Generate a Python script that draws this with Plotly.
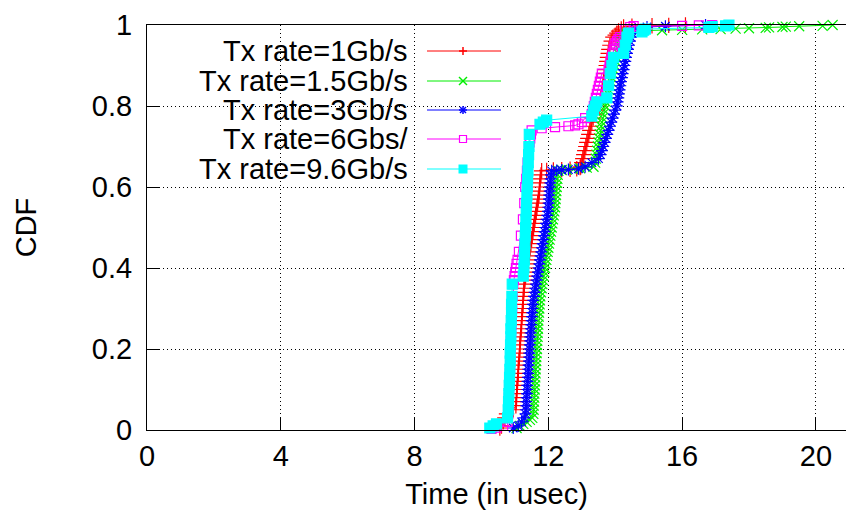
import plotly.graph_objects as go

# ---------------- data ----------------
series_names = ["Tx rate=1Gb/s", "Tx rate=1.5Gb/s", "Tx rate=3Gb/s",
                "Tx rate=6Gbs/", "Tx rate=9.6Gb/s"]

red_t = [
    10.55, 10.60, 10.65, 10.70, 10.75, 10.95, 11.03, 11.04, 11.05, 11.05,
    11.06, 11.07, 11.08, 11.09, 11.10, 11.10, 11.11, 11.12, 11.13, 11.14,
    11.15, 11.15, 11.16, 11.17, 11.18, 11.19, 11.20, 11.20, 11.21, 11.22,
    11.23, 11.24, 11.25, 11.25, 11.26, 11.27, 11.28, 11.30, 11.32, 11.34,
    11.36, 11.38, 11.40, 11.42, 11.44, 11.46, 11.48, 11.50, 11.52, 11.54,
    11.56, 11.58, 11.60, 11.62, 11.64, 11.66, 11.68, 11.70, 11.72, 11.73,
    11.74, 11.75, 11.76, 11.78, 11.80, 11.95, 12.15, 12.40, 12.65, 12.85,
    12.95, 12.97, 13.00, 13.03, 13.06, 13.09, 13.12, 13.15, 13.18, 13.21,
    13.24, 13.27, 13.30, 13.34, 13.38, 13.44, 13.52, 13.55, 13.57, 13.59,
    13.61, 13.63, 13.65, 13.67, 13.69, 13.71, 13.73, 13.75, 13.77, 13.79,
    13.81, 13.84, 13.88, 13.93, 14.00, 14.05, 14.10, 14.18, 14.25, 14.50,
    15.10, 15.60, 16.10]
red_cdf = [
    0.005, 0.01, 0.02, 0.03, 0.04, 0.05, 0.06, 0.07, 0.08, 0.09,
    0.10, 0.11, 0.12, 0.13, 0.14, 0.15, 0.16, 0.17, 0.18, 0.19,
    0.20, 0.21, 0.22, 0.23, 0.24, 0.25, 0.26, 0.27, 0.28, 0.29,
    0.30, 0.31, 0.32, 0.33, 0.34, 0.35, 0.36, 0.37, 0.38, 0.39,
    0.40, 0.41, 0.42, 0.43, 0.44, 0.45, 0.46, 0.47, 0.48, 0.49,
    0.50, 0.51, 0.52, 0.53, 0.54, 0.55, 0.56, 0.57, 0.58, 0.59,
    0.60, 0.61, 0.62, 0.63, 0.64, 0.641, 0.642, 0.643, 0.644, 0.645,
    0.648, 0.65, 0.66, 0.67, 0.68, 0.69, 0.70, 0.71, 0.72, 0.73,
    0.74, 0.75, 0.76, 0.77, 0.78, 0.79, 0.80, 0.81, 0.82, 0.83,
    0.84, 0.85, 0.86, 0.87, 0.88, 0.89, 0.90, 0.91, 0.92, 0.93,
    0.94, 0.95, 0.96, 0.97, 0.975, 0.98, 0.985, 0.99, 0.995, 0.997,
    0.998, 0.999, 1.0]

green_t = [
    11.05, 11.15, 11.25, 11.35, 11.45, 11.52, 11.55, 11.56, 11.56, 11.57,
    11.58, 11.58, 11.59, 11.60, 11.60, 11.61, 11.62, 11.62, 11.63, 11.64,
    11.64, 11.65, 11.66, 11.66, 11.67, 11.68, 11.68, 11.69, 11.70, 11.70,
    11.71, 11.72, 11.73, 11.74, 11.75, 11.76, 11.78, 11.80, 11.82, 11.84,
    11.86, 11.88, 11.90, 11.92, 11.94, 11.96, 11.98, 12.00, 12.02, 12.04,
    12.06, 12.08, 12.10, 12.12, 12.14, 12.16, 12.18, 12.20, 12.21, 12.22,
    12.23, 12.24, 12.25, 12.26, 12.27, 12.28, 12.30, 12.40, 12.55, 12.75,
    12.95, 13.15, 13.35, 13.40, 13.42, 13.44, 13.46, 13.48, 13.50, 13.52,
    13.54, 13.56, 13.58, 13.60, 13.62, 13.64, 13.67, 13.70, 13.72, 13.75,
    13.78, 13.81, 13.84, 13.87, 13.90, 13.93, 13.96, 13.99, 14.02, 14.05,
    14.08, 14.11, 14.14, 14.17, 14.20, 14.30, 14.45, 14.80, 15.40, 16.00,
    16.60, 17.15, 17.60, 18.00, 18.50, 18.60, 19.00, 19.10, 19.50, 20.20,
    20.50]
green_cdf = [
    0.005, 0.01, 0.015, 0.02, 0.025, 0.03, 0.04, 0.05, 0.06, 0.07,
    0.08, 0.09, 0.10, 0.11, 0.12, 0.13, 0.14, 0.15, 0.16, 0.17,
    0.18, 0.19, 0.20, 0.21, 0.22, 0.23, 0.24, 0.25, 0.26, 0.27,
    0.28, 0.29, 0.30, 0.31, 0.32, 0.33, 0.34, 0.35, 0.36, 0.37,
    0.38, 0.39, 0.40, 0.41, 0.42, 0.43, 0.44, 0.45, 0.46, 0.47,
    0.48, 0.49, 0.50, 0.51, 0.52, 0.53, 0.54, 0.55, 0.56, 0.57,
    0.58, 0.59, 0.60, 0.61, 0.62, 0.63, 0.64, 0.642, 0.643, 0.644,
    0.646, 0.648, 0.65, 0.66, 0.67, 0.68, 0.69, 0.70, 0.71, 0.72,
    0.73, 0.74, 0.75, 0.76, 0.77, 0.78, 0.79, 0.80, 0.81, 0.82,
    0.83, 0.84, 0.85, 0.86, 0.87, 0.88, 0.89, 0.90, 0.91, 0.92,
    0.93, 0.94, 0.95, 0.96, 0.97, 0.98, 0.984, 0.986, 0.987, 0.988,
    0.989, 0.990, 0.991, 0.992, 0.993, 0.994, 0.995, 0.996, 0.997, 0.998,
    1.0]

blue_t = [
    10.95, 11.10, 11.20, 11.28, 11.32, 11.33, 11.34, 11.34, 11.35, 11.36,
    11.37, 11.37, 11.38, 11.39, 11.40, 11.40, 11.41, 11.42, 11.43, 11.43,
    11.44, 11.45, 11.46, 11.46, 11.47, 11.48, 11.49, 11.50, 11.51, 11.52,
    11.53, 11.54, 11.55, 11.57, 11.59, 11.61, 11.63, 11.65, 11.67, 11.69,
    11.71, 11.73, 11.75, 11.77, 11.79, 11.81, 11.83, 11.85, 11.87, 11.89,
    11.91, 11.93, 11.95, 11.97, 11.99, 12.00, 12.01, 12.02, 12.03, 12.04,
    12.05, 12.06, 12.07, 12.08, 12.10, 12.25, 12.40, 12.60, 12.90, 13.10,
    13.30, 13.50, 13.56, 13.60, 13.64, 13.68, 13.72, 13.76, 13.80, 13.84,
    13.88, 13.92, 13.96, 14.00, 14.05, 14.07, 14.09, 14.11, 14.13, 14.15,
    14.17, 14.20, 14.22, 14.25, 14.27, 14.30, 14.32, 14.35, 14.38, 14.41,
    14.44, 14.47, 14.50, 14.60, 14.95, 15.50, 16.70]
blue_cdf = [
    0.005, 0.01, 0.02, 0.03, 0.04, 0.05, 0.06, 0.07, 0.08, 0.09,
    0.10, 0.11, 0.12, 0.13, 0.14, 0.15, 0.16, 0.17, 0.18, 0.19,
    0.20, 0.21, 0.22, 0.23, 0.24, 0.25, 0.26, 0.27, 0.28, 0.29,
    0.30, 0.31, 0.32, 0.33, 0.34, 0.35, 0.36, 0.37, 0.38, 0.39,
    0.40, 0.41, 0.42, 0.43, 0.44, 0.45, 0.46, 0.47, 0.48, 0.49,
    0.50, 0.51, 0.52, 0.53, 0.54, 0.55, 0.56, 0.57, 0.58, 0.59,
    0.60, 0.61, 0.62, 0.63, 0.64, 0.641, 0.642, 0.643, 0.645, 0.65,
    0.66, 0.67, 0.68, 0.69, 0.70, 0.71, 0.72, 0.73, 0.74, 0.75,
    0.76, 0.77, 0.78, 0.79, 0.80, 0.81, 0.82, 0.83, 0.84, 0.85,
    0.86, 0.87, 0.88, 0.89, 0.90, 0.91, 0.92, 0.93, 0.94, 0.95,
    0.96, 0.97, 0.98, 0.99, 0.995, 0.997, 1.0]

magenta_t = [
    10.30, 10.45, 10.65, 10.78, 10.80, 10.81, 10.82, 10.83, 10.84, 10.85,
    10.86, 10.87, 10.88, 10.88, 10.89, 10.90, 10.91, 10.92, 10.93, 10.95,
    10.97, 10.99, 11.01, 11.03, 11.05, 11.08, 11.12, 11.18, 11.24, 11.28,
    11.31, 11.34, 11.36, 11.38, 11.40, 11.42, 11.44, 11.46, 11.48, 11.50,
    11.80, 12.20, 12.60, 12.80, 12.90, 13.00, 13.10, 13.30, 13.33, 13.36,
    13.39, 13.42, 13.45, 13.48, 13.51, 13.54, 13.57, 13.60, 13.80, 13.83,
    13.86, 13.89, 13.92, 13.95, 13.98, 14.01, 14.05, 14.10, 14.15, 14.30,
    14.45, 14.55, 16.00, 16.50, 16.90]
magenta_cdf = [
    0.003, 0.006, 0.01, 0.02, 0.04, 0.06, 0.08, 0.10, 0.12, 0.14,
    0.16, 0.18, 0.20, 0.22, 0.24, 0.26, 0.28, 0.30, 0.33, 0.36,
    0.37, 0.38, 0.39, 0.40, 0.41, 0.42, 0.44, 0.48, 0.52, 0.56,
    0.60, 0.62, 0.64, 0.66, 0.68, 0.70, 0.71, 0.72, 0.73, 0.74,
    0.745, 0.748, 0.75, 0.752, 0.755, 0.76, 0.77, 0.78, 0.79, 0.80,
    0.81, 0.82, 0.83, 0.84, 0.85, 0.86, 0.87, 0.88, 0.89, 0.90,
    0.91, 0.92, 0.93, 0.94, 0.95, 0.955, 0.96, 0.965, 0.97, 0.99,
    0.995, 0.997, 0.998, 0.999, 1.0]

cyan_t = [
    10.25, 10.35, 10.45, 10.78, 10.80, 10.81, 10.82, 10.83, 10.84, 10.85,
    10.86, 10.86, 10.87, 10.88, 10.88, 10.89, 10.90, 10.90, 10.91, 10.92,
    11.25, 11.27, 11.28, 11.29, 11.30, 11.31, 11.32, 11.33, 11.34, 11.35,
    11.36, 11.37, 11.38, 11.39, 11.40, 11.41, 11.42, 11.43, 11.75, 11.85,
    11.95, 13.30, 13.35, 13.40, 13.45, 13.75, 13.80, 13.85, 13.90, 13.95,
    14.25, 14.30, 14.35, 14.40, 14.80, 14.85, 14.90, 16.80, 16.90, 17.30,
    17.40]
cyan_cdf = [
    0.005, 0.01, 0.015, 0.03, 0.05, 0.07, 0.09, 0.11, 0.13, 0.15,
    0.17, 0.19, 0.21, 0.23, 0.25, 0.27, 0.29, 0.31, 0.33, 0.36,
    0.38, 0.40, 0.42, 0.44, 0.46, 0.48, 0.50, 0.52, 0.54, 0.56,
    0.58, 0.60, 0.62, 0.64, 0.66, 0.68, 0.70, 0.73, 0.755, 0.76,
    0.765, 0.775, 0.79, 0.80, 0.81, 0.82, 0.85, 0.88, 0.90, 0.92,
    0.93, 0.95, 0.97, 0.98, 0.983, 0.987, 0.99, 0.994, 0.996, 0.998,
    1.0]

x_ticks = [0, 4, 8, 12, 16, 20]
y_ticks = [0, 0.2, 0.4, 0.6, 0.8, 1]

# ---------------- styles ----------------
colors = ["#ff0000", "#00ee00", "#0000ff", "#ff00ff", "#00ffff"]
symbols = ["cross-thin", "x-thin", "asterisk", "square-open", "square"]
sizes = [11, 10, 10, 9, 10]
series_t = [red_t, green_t, blue_t, magenta_t, cyan_t]
series_cdf = [red_cdf, green_cdf, blue_cdf, magenta_cdf, cyan_cdf]

FONT = "Liberation Sans, Arial, Helvetica, sans-serif"
FS = 29
W, H = 846, 518
ML, MR, MT, MB = 147, 0, 25, 88
PW, PH = W - ML - MR, H - MT - MB

fig = go.Figure()
for name, t, c, col, sym, sz in zip(series_names, series_t, series_cdf,
                                    colors, symbols, sizes):
    fig.add_trace(go.Scatter(
        x=t, y=c, mode="lines+markers", name=name, showlegend=False,
        cliponaxis=False,
        line=dict(color=col, width=1),
        marker=dict(symbol=sym, size=sz, color=col,
                    line=dict(color=col, width=1.2)),
    ))

# ---------------- gnuplot-like key (text right, sample on the right) ----------------
def px2x(px):
    return (px - ML) / PW

def py2y(py):
    return (MT + PH - py) / PH

shapes = []
annotations = []
# opaque key box (between grid and traces)
shapes.append(dict(type="rect", xref="paper", yref="paper", layer="between",
                   x0=px2x(148.5), x1=px2x(506), y0=py2y(184), y1=py2y(37),
                   fillcolor="white", line=dict(width=0)))
row_py = [51, 81, 110, 139, 169]
text_right = px2x(410)
line_x0, line_x1 = px2x(427), px2x(501)
mark_x = px2x(463)
for name, col, sym, py in zip(series_names, colors, symbols, row_py):
    yy = py2y(py)
    annotations.append(dict(xref="paper", yref="paper", x=text_right, y=yy,
                            xanchor="right", yanchor="middle", showarrow=False,
                            text=name, font=dict(family=FONT, size=FS, color="black")))
    shapes.append(dict(type="line", xref="paper", yref="paper", layer="above",
                       x0=line_x0, x1=line_x1, y0=yy, y1=yy,
                       line=dict(color=col, width=1)))
    base = dict(xref="paper", yref="paper", layer="above",
                xsizemode="pixel", ysizemode="pixel", xanchor=mark_x, yanchor=yy)
    r = 4
    if sym == "cross-thin":
        segs = [(-r, 0, r, 0), (0, -r, 0, r)]
    elif sym == "x-thin":
        segs = [(-r, -r, r, r), (-r, r, r, -r)]
    elif sym == "asterisk":
        segs = [(-r, 0, r, 0), (0, -r, 0, r), (-3, -3, 3, 3), (-3, 3, 3, -3)]
    else:
        segs = []
    for (a, b, c2, d) in segs:
        shapes.append(dict(type="line", x0=a, y0=b, x1=c2, y1=d,
                           line=dict(color=col, width=1.5), **base))
    if sym == "square-open":
        shapes.append(dict(type="rect", x0=-3.5, x1=3.5, y0=-3.5, y1=3.5,
                           fillcolor="white", line=dict(color=col, width=1.2), **base))
    if sym == "square":
        shapes.append(dict(type="rect", x0=-4.5, x1=4.5, y0=-4.5, y1=4.5,
                           fillcolor=col, line=dict(color=col, width=0), **base))

axis_common = dict(
    showline=True, linecolor="black", linewidth=1,
    ticks="inside", ticklen=12, tickcolor="black", tickwidth=1,
    showgrid=True, gridcolor="#000000", gridwidth=1, griddash="1px,3px",
    zeroline=False,
    tickfont=dict(family=FONT, size=FS, color="black"),
)

fig.update_layout(
    width=W, height=H,
    margin=dict(l=ML, r=MR, t=MT, b=MB),
    paper_bgcolor="white", plot_bgcolor="white",
    font=dict(family=FONT, size=FS, color="black"),
    shapes=shapes, annotations=annotations,
    xaxis=dict(range=[0, 20.9], tickvals=x_ticks, mirror=True,
               ticklabelstandoff=0,
               title=dict(text="Time (in usec)", standoff=12,
                          font=dict(family=FONT, size=FS)),
               **axis_common),
    yaxis=dict(range=[0, 1], tickvals=y_ticks, mirror=False,
               ticklabelstandoff=8,
               title=dict(text="CDF", standoff=46,
                          font=dict(family=FONT, size=FS)),
               **axis_common),
)

fig.write_html("out.html")
